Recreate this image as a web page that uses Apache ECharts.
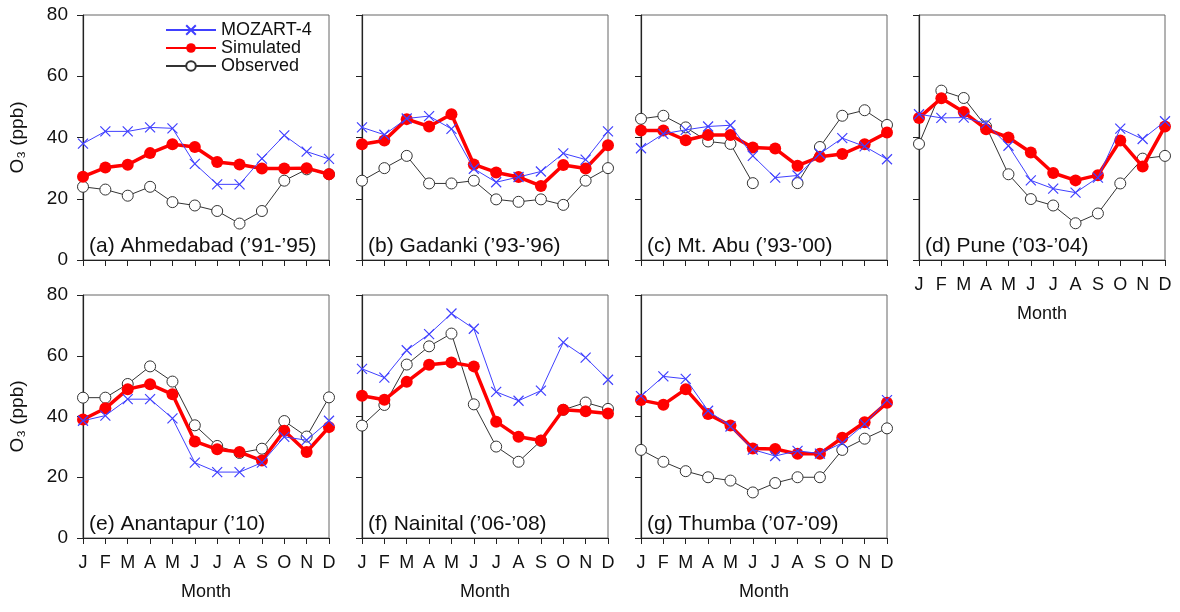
<!DOCTYPE html>
<html><head><meta charset="utf-8">
<script src="https://cdn.jsdelivr.net/npm/echarts@6/dist/echarts.min.js"></script>
<style>html,body{margin:0;padding:0;background:#fff}#c{width:1180px;height:612px}</style>
</head><body><div id="c"></div>
<script>
const months = ['J','F','M','A','M','J','J','A','S','O','N','D'];
const yTicks = [0,20,40,60,80];
const seriesNames = ['MOZART-4','Simulated','Observed'];
const panelTitles = ['(a) Ahmedabad (\u201991-\u201995)','(b) Gadanki (\u201993-\u201996)','(c) Mt. Abu (\u201993-\u201900)','(d) Pune (\u201903-\u201904)','(e) Anantapur (\u201910)','(f) Nainital (\u201906-\u201908)','(g) Thumba (\u201907-\u201909)'];

const mozA = [38,42,42,43.3,43,31.4,24.7,24.7,33.1,40.7,35.4,33];
const simA = [27.2,30.2,31.1,34.9,37.8,36.9,32,31.2,29.9,29.9,30,28];
const obsA = [23.9,23,21,23.9,18.9,17.8,16,11.9,16,25.9,29.6,28];

const mozB = [43.3,40.9,46.2,47,42.8,29.8,25.4,27.1,28.9,34.8,32.8,42];
const simB = [37.8,39,46,43.6,47.6,31.2,28.6,27.1,24.2,31,29.9,37.5];
const obsB = [25.9,30,34,25,25,25.9,19.8,19,19.8,18,25.9,30];

const mozC = [36.5,41.2,42.5,43.6,44,34,26.9,27.6,34.7,39.8,37.1,32.9];
const simC = [42.3,42.3,39.1,40.8,40.8,36.7,36.4,30.8,33.7,34.6,37.8,41.6];
const obsC = [46.1,47.1,43.3,38.7,37.9,25.1,null,25.1,36.9,47.1,48.9,44.1];

const mozD = [47.6,46.4,46.5,44.6,37.3,26,23.3,22,26.9,42.9,39.5,45.3];
const simD = [46.4,52.8,48.3,42.7,40,35.1,28.4,26,27.7,39,30.5,43.6];
const obsD = [37.9,55.3,52.9,43.6,28,19.9,17.8,12,15.2,25,33.1,34];

const mozE = [38.6,40.3,45.7,45.7,39.4,24.8,21.7,21.7,24.8,33.3,32.2,38.6];
const simE = [39,42.7,49,50.6,47.3,31.8,29.2,28.3,25.5,35.3,28.3,36.5];
const obsE = [46.2,46.2,50.7,56.5,51.5,37.1,30.3,28,29.4,38.5,33.4,46.3];

const mozF = [55.7,52.8,61.8,67.1,73.9,68.9,48.1,45.2,48.5,64.4,59.4,52.1];
const simF = [46.8,45.5,51.4,57,57.8,56.5,38.3,33.3,32.1,42.2,41.7,41];
const obsF = [37,43.8,57.1,63.1,67.3,44,30.1,25.1,32,42.2,44.6,42.5];

const mozG = [46.7,53.2,52.4,41.9,36.7,29.1,27,28.7,27.8,31.3,37.5,45.4];
const simG = [45.4,43.9,49,40.8,37,29.5,29.3,27.7,27.7,33,38.1,44.5];
const obsG = [29,25.1,22,20,18.9,15,18.1,20,20,29,32.7,36.1];

const panels = [[mozA,simA,obsA],[mozB,simB,obsB],[mozC,simC,obsC],[mozD,simD,obsD],[mozE,simE,obsE],[mozF,simF,obsF],[mozG,simG,obsG]];

const lefts = [83,362,641,919];
const W = 246;
const rows = [{top:15,h:245},{top:295,h:243}];
const FONT = 'Liberation Sans, Arial, Helvetica, sans-serif';

const grids=[], xAxes=[], yAxes=[], series=[], titles=[];
panels.forEach((p,i)=>{
  const r = i<4?0:1, c = i<4?i:i-4;
  grids.push({left:lefts[c], top:rows[r].top, width:W, height:rows[r].h, show:true, borderColor:'#666', borderWidth:1, backgroundColor:'transparent'});
  const showX = (i>=3);
  xAxes.push({type:'category', gridIndex:i, data:months, boundaryGap:false,
    axisLine:{onZero:false, lineStyle:{color:'#222',width:1.2}},
    axisTick:{show:true, length:6, inside:false, lineStyle:{color:'#222'}},
    axisLabel:{show:showX, color:'#111', fontSize:18, fontFamily:FONT, margin:16, interval:0},
    splitLine:{show:false},
    name: showX?'Month':'', nameLocation:'middle', nameGap:45, nameTextStyle:{color:'#111', fontSize:18, fontFamily:FONT}});
  const showY = (c===0);
  yAxes.push({type:'value', gridIndex:i, min:yTicks[0], max:yTicks[yTicks.length-1], interval:20,
    axisLine:{show:true, lineStyle:{color:'#222',width:1.2}},
    axisTick:{show:true, length:6, lineStyle:{color:'#222'}},
    axisLabel:{show:showY, color:'#111', fontSize:19, fontFamily:FONT, margin:15},
    splitLine:{show:false},
    name: showY?'O\u2083 (ppb)':'', nameLocation:'middle', nameRotate:90, nameGap:56,
    nameTextStyle:{color:'#111', fontSize:19, fontFamily:FONT}});
  titles.push({text:panelTitles[i], left:lefts[c]+1, top:rows[r].top+rows[r].h-29,
    textStyle:{fontSize:21, fontWeight:'normal', color:'#111', fontFamily:FONT}});
  series.push({name:seriesNames[2], type:'line', xAxisIndex:i, yAxisIndex:i, data:p[2], z:2,
    symbol:'circle', symbolSize:11, showAllSymbol:true,
    lineStyle:{color:'#333', width:1}, itemStyle:{color:'#fff', borderColor:'#333', borderWidth:1}});
  series.push({name:seriesNames[1], type:'line', xAxisIndex:i, yAxisIndex:i, data:p[1], z:3,
    symbol:'circle', symbolSize:12, showAllSymbol:true,
    lineStyle:{color:'#ff0000', width:3.5}, itemStyle:{color:'#ff0000'}});
  series.push({name:seriesNames[0], type:'line', xAxisIndex:i, yAxisIndex:i, data:p[0], z:4,
    symbol:'path://M0,0L10,10M10,0L0,10', symbolSize:10, showAllSymbol:true,
    lineStyle:{color:'#4040ff', width:1}, itemStyle:{color:'transparent', borderColor:'#4040ff', borderWidth:1.2}});
});

const chart = echarts.init(document.getElementById('c'), null, {renderer:'canvas'});
chart.setOption({
  animation:false,
  backgroundColor:'#fff',
  title:titles,
  legend:{data:seriesNames, orient:'vertical', left:165, top:21, itemWidth:50, itemHeight:12, itemGap:0, padding:0,
    textStyle:{fontSize:18, lineHeight:17, color:'#111', fontFamily:FONT}, selectedMode:false},
  grid:grids, xAxis:xAxes, yAxis:yAxes, series:series
});
</script></body></html>
